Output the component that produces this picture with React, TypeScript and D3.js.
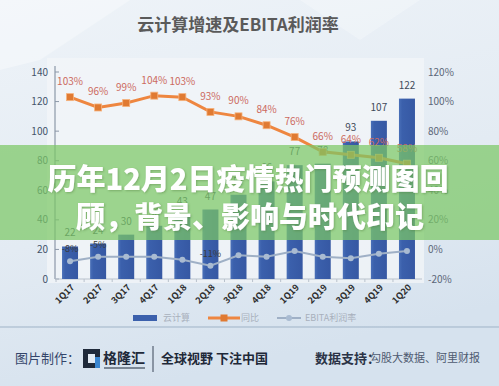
import React from "react"
import { scaleBand, scaleLinear, line } from "d3"

// quarters and values
const quarters = ["1Q17", "2Q17", "3Q17", "4Q17", "1Q18", "2Q18", "3Q18", "4Q18", "1Q19", "2Q19", "3Q19", "4Q19", "1Q20"]
const cloudRevenue = [22, 24, 30, 36, 43, 47, 57, 66, 77, 78, 93, 107, 122]
const yoyGrowth = [103, 96, 99, 104, 103, 93, 90, 84, 76, 66, 64, 62, 58]
const ebitaMargin = [-8, -5, -5, -5, -7, -11, -4, -5, -1, -5, -6, -3, -1]
const ebitaLabelShown = [0, 1, 5]
const leftTicks = [0, 20, 40, 60, 80, 100, 120, 140]
const rightTicks = [-20, 0, 20, 40, 60, 80, 100, 120]

const FONT = "'Noto Sans CJK SC', 'Noto Sans', sans-serif"

export default function App() {
	const width = 499
	const height = 386

	/** plot box */
	const left = 55
	const right = 422
	const top = 72
	const bottom = 279

	const x = scaleBand<string>()
		.domain(quarters)
		.range([left + 1, right - 1])
		.paddingInner(0.43)
		.paddingOuter(0.215)

	const yLeft = scaleLinear().domain([0, 140]).range([bottom, top])
	const yRight = scaleLinear().domain([-20, 120]).range([bottom, top])

	const cx = (q: string) => (x(q) ?? 0) + x.bandwidth() / 2

	const growthLine = line<number>()
		.x((_, i) => cx(quarters[i]))
		.y(d => yRight(d))

	const marginLine = line<number>()
		.x((_, i) => cx(quarters[i]))
		.y(d => yRight(d))

	return (
		<div style={{ position: "fixed", left: 0, top: 0 }}>
			<svg width={width} height={height} style={{ display: "block" }} fontFamily={FONT}>
				<defs>
					<linearGradient id="bg" x1="0" y1="0" x2="0.3" y2="1">
						<stop offset="0" stopColor="#eef3f8" />
						<stop offset="0.6" stopColor="#e3ebf3" />
						<stop offset="1" stopColor="#d6e2ee" />
					</linearGradient>
					<linearGradient id="barFill" x1="0" y1="0" x2="1" y2="0">
						<stop offset="0" stopColor="#4a70b8" />
						<stop offset="0.2" stopColor="#3b60ac" />
						<stop offset="1" stopColor="#3658a3" />
					</linearGradient>
					<filter id="txtShadow" x="-10%" y="-30%" width="120%" height="160%">
						<feDropShadow dx="1" dy="1" stdDeviation="1" floodColor="#4d7a3c" floodOpacity="0.45" />
					</filter>
				</defs>

				{/* background */}
				<rect x={0} y={0} width={width} height={height} fill="url(#bg)" />
				<polygon points="0,0 130,0 40,60 0,70" fill="#ffffff" opacity={0.35} />
				<polygon points="300,0 420,0 360,40" fill="#ffffff" opacity={0.25} />
				<rect x={left - 8} y={top - 14} width={right - left + 10} height={bottom - top + 18} fill="#f3f5f8" opacity={0.75} />

				{/* title */}
				<text x={238} y={31} textAnchor="middle" fontSize={17} fontWeight={700} fill="#5a5a5a">
					云计算增速及EBITA利润率
				</text>

				{/* left axis */}
				<line x1={left} x2={left} y1={top - 6} y2={bottom} stroke="#8c98a8" strokeWidth={1.2} />
				{leftTicks.map(t => (
					<g key={"l" + t}>
						<line x1={left} x2={left + 4} y1={yLeft(t)} y2={yLeft(t)} stroke="#8c98a8" />
						<text x={48} y={yLeft(t)} dy="0.35em" textAnchor="end" fontSize={10} fill="#44546a">
							{t}
						</text>
					</g>
				))}

				{/* right axis labels */}
				{rightTicks.map(t => (
					<text key={"r" + t} x={428} y={yRight(t)} dy="0.35em" fontSize={10} fill="#5b6678">
						{t + "%"}
					</text>
				))}

				{/* bottom axis */}
				<line x1={left} x2={right} y1={bottom} y2={bottom} stroke="#b9c2cc" />
				{quarters.map(q => (
					<line key={"t" + q} x1={(x(q) ?? 0) - 6} x2={(x(q) ?? 0) - 6} y1={bottom} y2={bottom + 3} stroke="#b9c2cc" />
				))}

				{/* bars */}
				{quarters.map((q, i) => (
					<rect
						key={"b" + q}
						x={x(q)}
						y={yLeft(cloudRevenue[i])}
						width={x.bandwidth()}
						height={bottom - yLeft(cloudRevenue[i])}
						fill="url(#barFill)"
					/>
				))}
				{quarters.map((q, i) => (
					<text key={"bv" + q} x={cx(q)} y={yLeft(cloudRevenue[i]) - 10} textAnchor="middle" fontSize={10} fill="#404a5a">
						{cloudRevenue[i]}
					</text>
				))}

				{/* EBITA margin */}
				<path d={marginLine(ebitaMargin) ?? ""} fill="none" stroke="#9fb0c6" strokeWidth={2} />
				{ebitaMargin.map((v, i) => (
					<circle key={"m" + i} cx={cx(quarters[i])} cy={yRight(v)} r={3} fill="#a9bbd2" />
				))}
				{ebitaLabelShown.map(i => (
					<text key={"ml" + i} x={cx(quarters[i])} y={yRight(ebitaMargin[i]) - 9} textAnchor="middle" fontSize={9} fill="#3a3a3a">
						{ebitaMargin[i] + "%"}
					</text>
				))}

				{/* YoY growth */}
				<path d={growthLine(yoyGrowth) ?? ""} fill="none" stroke="#ee8640" strokeWidth={3} />
				{yoyGrowth.map((v, i) => (
					<rect key={"g" + i} x={cx(quarters[i]) - 3.5} y={yRight(v) - 3.5} width={7} height={7} fill="#e07a32" stroke="#f6b27c" strokeWidth={0.8} />
				))}
				{yoyGrowth.map((v, i) => (
					<text key={"gl" + i} x={cx(quarters[i])} y={yRight(v) - 12} textAnchor="middle" fontSize={10} fill="#cc6a60">
						{v + "%"}
					</text>
				))}

				{/* x labels */}
				{quarters.map(q => (
					<text
						key={"x" + q}
						transform={`translate(${cx(q) + 5},${bottom + 9}) rotate(-45)`}
						textAnchor="end"
						fontSize={9}
						fontWeight={700}
						fill="#2e2e2e"
					>
						{q}
					</text>
				))}

				{/* legend */}
				<rect x={133} y={315} width={24} height={6} fill="#3b60ac" />
				<text x={163} y={318} dy="0.35em" fontSize={9} fill="#a8b0bc">云计算</text>
				<line x1={208} x2={240} y1={318} y2={318} stroke="#ee8640" strokeWidth={3} />
				<rect x={220.5} y={314.5} width={7} height={7} fill="#e07a32" />
				<text x={241} y={318} dy="0.35em" fontSize={9} fill="#a8b0bc">同比</text>
				<line x1={277} x2={301} y1={318} y2={318} stroke="#9fb0c6" strokeWidth={2} />
				<circle cx={289} cy={318} r={3} fill="#a9bbd2" />
				<text x={305} y={318} dy="0.35em" fontSize={9} fill="#a8b0bc">EBITA利润率</text>

				{/* separator + footer */}
				<line x1={0} x2={width} y1={327} y2={327} stroke="#9fb3c7" strokeWidth={1} />
				<text x={15} y={358} dy="0.35em" fontSize={13} fill="#34456a">图片制作：</text>
				<rect x={83} y={349} width={17} height={19} fill="#1f2a3a" />
				<rect x={88} y={354} width={7} height={9} fill="#e3ebf3" />
				<rect x={95} y={357} width={5} height={11} fill="#3a86d0" />
				<text x={103} y={358} dy="0.35em" fontSize={14} fontWeight={700} fill="#1f2a3a">格隆汇</text>
				<line x1={104} x2={145} y1={368} y2={368} stroke="#1f2a3a" strokeWidth={1} />
				<line x1={153} x2={153} y1={346} y2={372} stroke="#3a4658" strokeWidth={1} />
				<text x={161} y={358} dy="0.35em" fontSize={13} fontWeight={700} fill="#1e2838">全球视野 下注中国</text>
				<text x={315} y={358} dy="0.35em" fontSize={13} fontWeight={700} fill="#2b3346">数据支持：</text>
				<text x={370} y={358} dy="0.35em" fontSize={11} fill="#4e5a70">勾股大数据、阿里财报</text>

				{/* overlay banner */}
				<rect x={0} y={145} width={width} height={95} fill="#7cc765" opacity={0.72} />
				<g filter="url(#txtShadow)" fontWeight={900} fontSize={29} fill="#ffffff" textAnchor="middle">
					<text x={248} y={180} dy="0.35em">历年12月2日疫情热门预测图回</text>
					<text x={250} y={218} dy="0.35em">顾，背景、影响与时代印记</text>
				</g>
			</svg>
		</div>
	)
}
